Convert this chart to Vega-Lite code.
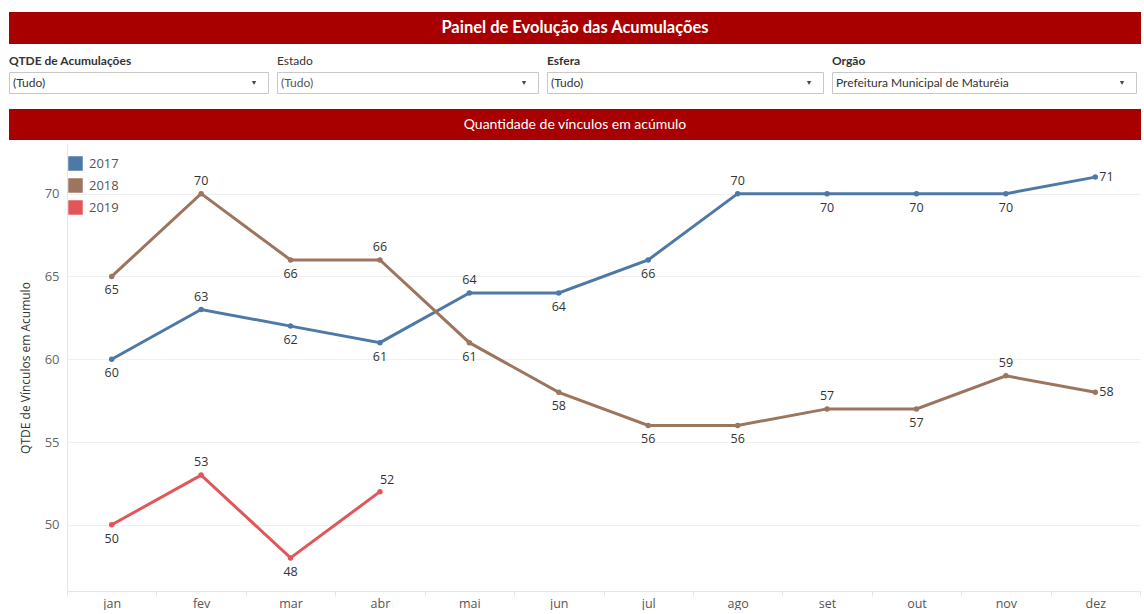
{
  "$schema": "https://vega.github.io/schema/vega-lite/v6.json",
  "padding": {"left": 8, "top": 12, "right": 0, "bottom": 0},
  "background": "white",
  "config": {"font": "Lato", "view": {"stroke": null}},
  "columns": 1,
  "align": "none",
  "spacing": 4,
  "resolve": {"legend": {"color": "independent"}, "scale": {"color": "independent"}},
  "concat": [
    {
      "columns": 1,
      "align": "none",
      "spacing": 15,
      "concat": [
        {
          "columns": 1,
          "align": "none",
          "spacing": 10,
          "concat": [
            {
              "width": 1132,
              "height": 32,
              "view": {"fill": "#a80000", "stroke": null},
              "data": {"values": [{"t": "Painel de Evolução das Acumulações"}]},
              "mark": {"type": "text", "color": "white", "fontSize": 16.5, "fontWeight": "bold", "font": "Lato", "baseline": "middle"},
              "encoding": {"text": {"field": "t"}}
            },
            {
              "spacing": 7,
              "hconcat": [
                {
                  "width": 259, "height": 21,
                  "title": {"text": "QTDE de Acumulações", "anchor": "start", "fontSize": 12, "fontWeight": "bold", "color": "#333", "offset": 4, "font": "Lato"},
                  "view": {"fill": "white", "stroke": "#c8c8c8"},
                  "data": {"values": [{"v": "(Tudo)"}]},
                  "layer": [
                    {"mark": {"type": "text", "align": "left", "baseline": "middle", "dx": 4, "fontSize": 12, "color": "#333", "font": "Lato"},
                     "encoding": {"text": {"field": "v"}, "x": {"datum": 0, "type": "quantitative", "scale": {"domain": [0, 1]}, "axis": null}}},
                    {"mark": {"type": "text", "text": "▼", "align": "center", "baseline": "middle", "dx": -14, "fontSize": 7, "color": "#444"},
                     "encoding": {"x": {"datum": 1, "type": "quantitative", "scale": {"domain": [0, 1]}, "axis": null}}}
                  ]
                },
                {
                  "width": 261, "height": 21,
                  "title": {"text": "Estado", "anchor": "start", "fontSize": 12, "fontWeight": "normal", "color": "#333", "offset": 4, "font": "Lato"},
                  "view": {"fill": "white", "stroke": "#c8c8c8"},
                  "data": {"values": [{"v": "(Tudo)"}]},
                  "layer": [
                    {"mark": {"type": "text", "align": "left", "baseline": "middle", "dx": 4, "fontSize": 12, "color": "#555", "font": "Lato"},
                     "encoding": {"text": {"field": "v"}, "x": {"datum": 0, "type": "quantitative", "scale": {"domain": [0, 1]}, "axis": null}}},
                    {"mark": {"type": "text", "text": "▼", "align": "center", "baseline": "middle", "dx": -14, "fontSize": 7, "color": "#444"},
                     "encoding": {"x": {"datum": 1, "type": "quantitative", "scale": {"domain": [0, 1]}, "axis": null}}}
                  ]
                },
                {
                  "width": 276, "height": 21,
                  "title": {"text": "Esfera", "anchor": "start", "fontSize": 12, "fontWeight": "bold", "color": "#333", "offset": 4, "font": "Lato"},
                  "view": {"fill": "white", "stroke": "#c8c8c8"},
                  "data": {"values": [{"v": "(Tudo)"}]},
                  "layer": [
                    {"mark": {"type": "text", "align": "left", "baseline": "middle", "dx": 4, "fontSize": 12, "color": "#333", "font": "Lato"},
                     "encoding": {"text": {"field": "v"}, "x": {"datum": 0, "type": "quantitative", "scale": {"domain": [0, 1]}, "axis": null}}},
                    {"mark": {"type": "text", "text": "▼", "align": "center", "baseline": "middle", "dx": -14, "fontSize": 7, "color": "#444"},
                     "encoding": {"x": {"datum": 1, "type": "quantitative", "scale": {"domain": [0, 1]}, "axis": null}}}
                  ]
                },
                {
                  "width": 304, "height": 21,
                  "title": {"text": "Orgão", "anchor": "start", "fontSize": 12, "fontWeight": "bold", "color": "#333", "offset": 4, "font": "Lato"},
                  "view": {"fill": "white", "stroke": "#c8c8c8"},
                  "data": {"values": [{"v": "Prefeitura Municipal de Maturéia"}]},
                  "layer": [
                    {"mark": {"type": "text", "align": "left", "baseline": "middle", "dx": 4, "fontSize": 12, "color": "#333", "font": "Lato"},
                     "encoding": {"text": {"field": "v"}, "x": {"datum": 0, "type": "quantitative", "scale": {"domain": [0, 1]}, "axis": null}}},
                    {"mark": {"type": "text", "text": "▼", "align": "center", "baseline": "middle", "dx": -14, "fontSize": 7, "color": "#444"},
                     "encoding": {"x": {"datum": 1, "type": "quantitative", "scale": {"domain": [0, 1]}, "axis": null}}}
                  ]
                }
              ]
            }
          ]
        },
        {
          "width": 1132,
          "height": 31,
          "view": {"fill": "#a80000", "stroke": null},
          "data": {"values": [{"t": "Quantidade de vínculos em acúmulo"}]},
          "mark": {"type": "text", "color": "white", "fontSize": 14, "font": "Lato", "baseline": "middle"},
          "encoding": {"text": {"field": "t"}}
        }
      ]
    },
    {
      "width": 1132,
      "height": 447,
      "data": {"values": [
        {"year": "2017", "month": "jan", "value": 60},
        {"year": "2017", "month": "fev", "value": 63},
        {"year": "2017", "month": "mar", "value": 62},
        {"year": "2017", "month": "abr", "value": 61},
        {"year": "2017", "month": "mai", "value": 64},
        {"year": "2017", "month": "jun", "value": 64},
        {"year": "2017", "month": "jul", "value": 66},
        {"year": "2017", "month": "ago", "value": 70},
        {"year": "2017", "month": "set", "value": 70},
        {"year": "2017", "month": "out", "value": 70},
        {"year": "2017", "month": "nov", "value": 70},
        {"year": "2017", "month": "dez", "value": 71},
        {"year": "2018", "month": "jan", "value": 65},
        {"year": "2018", "month": "fev", "value": 70},
        {"year": "2018", "month": "mar", "value": 66},
        {"year": "2018", "month": "abr", "value": 66},
        {"year": "2018", "month": "mai", "value": 61},
        {"year": "2018", "month": "jun", "value": 58},
        {"year": "2018", "month": "jul", "value": 56},
        {"year": "2018", "month": "ago", "value": 56},
        {"year": "2018", "month": "set", "value": 57},
        {"year": "2018", "month": "out", "value": 57},
        {"year": "2018", "month": "nov", "value": 59},
        {"year": "2018", "month": "dez", "value": 58},
        {"year": "2019", "month": "jan", "value": 50},
        {"year": "2019", "month": "fev", "value": 53},
        {"year": "2019", "month": "mar", "value": 48},
        {"year": "2019", "month": "abr", "value": 52}
      ]},
      "encoding": {
        "x": {"field": "month", "type": "ordinal",
              "sort": ["jan", "fev", "mar", "abr", "mai", "jun", "jul", "ago", "set", "out", "nov", "dez"],
              "scale": {"type": "band", "paddingInner": 0, "paddingOuter": 0, "range": [58, 1131]},
              "axis": {"title": null, "labelAngle": 0, "tickBand": "extent", "tickSize": 5, "tickColor": "#e6e6e6", "domainColor": "#e6e6e6", "labelColor": "#555", "labelFontSize": 12.5, "labelPadding": 1, "grid": false, "labelFont": "Open Sans"}},
        "y": {"field": "value", "type": "quantitative",
              "scale": {"domain": [46, 73], "nice": false, "zero": false},
              "axis": {"values": [50, 55, 60, 65, 70], "offset": -58, "title": "QTDE de Vínculos em Acumulo", "titleFont": "Open Sans", "titleFontSize": 12, "titleFontWeight": "normal", "titleColor": "#333", "titlePadding": 12, "labelFont": "Open Sans", "labelColor": "#666", "labelFontSize": 13, "tickSize": 0, "labelPadding": 8, "domainColor": "#e6e6e6", "gridColor": "#f0f0f0", "grid": true}},
        "color": {"field": "year", "type": "nominal",
                  "scale": {"domain": ["2017", "2018", "2019"], "range": ["#4e79a7", "#9c755f", "#e15759"]},
                  "legend": {"orient": "none", "legendX": 59, "legendY": 12, "title": null, "symbolType": "square", "symbolSize": 210, "symbolStrokeWidth": 0, "symbolOpacity": 1, "labelFont": "Open Sans", "labelFontSize": 13, "labelColor": "#555", "rowPadding": 7, "labelOffset": 6, "padding": 0}}
      },
      "layer": [
        {"mark": {"type": "line", "strokeWidth": 3}},
        {"mark": {"type": "point", "filled": true, "size": 30, "opacity": 1}},
        {"transform": [{"filter": "indexof(['2017-fev','2017-mai','2017-ago','2018-fev','2018-abr','2018-set','2018-nov','2019-fev'], datum.year + '-' + datum.month) >= 0"}],
         "mark": {"type": "text", "dy": -13, "fontSize": 12.5, "color": "#333", "font": "Open Sans"},
         "encoding": {"text": {"field": "value"}, "color": {"value": "#333"}}},
        {"transform": [{"filter": "indexof(['2017-jan','2017-mar','2017-abr','2017-jun','2017-jul','2017-set','2017-out','2017-nov','2018-jan','2018-mar','2018-mai','2018-jun','2018-jul','2018-ago','2018-out','2019-jan','2019-mar'], datum.year + '-' + datum.month) >= 0"}],
         "mark": {"type": "text", "dy": 14, "fontSize": 12.5, "color": "#333", "font": "Open Sans"},
         "encoding": {"text": {"field": "value"}, "color": {"value": "#333"}}},
        {"transform": [{"filter": "datum.month == 'dez'"}],
         "mark": {"type": "text", "align": "left", "dx": 4, "fontSize": 12.5, "color": "#333", "font": "Open Sans"},
         "encoding": {"text": {"field": "value"}, "color": {"value": "#333"}}},
        {"transform": [{"filter": "datum.year == '2019' && datum.month == 'abr'"}],
         "mark": {"type": "text", "align": "left", "dx": 0, "dy": -12, "fontSize": 12.5, "color": "#333", "font": "Open Sans"},
         "encoding": {"text": {"field": "value"}, "color": {"value": "#333"}}}
      ]
    }
  ]
}
